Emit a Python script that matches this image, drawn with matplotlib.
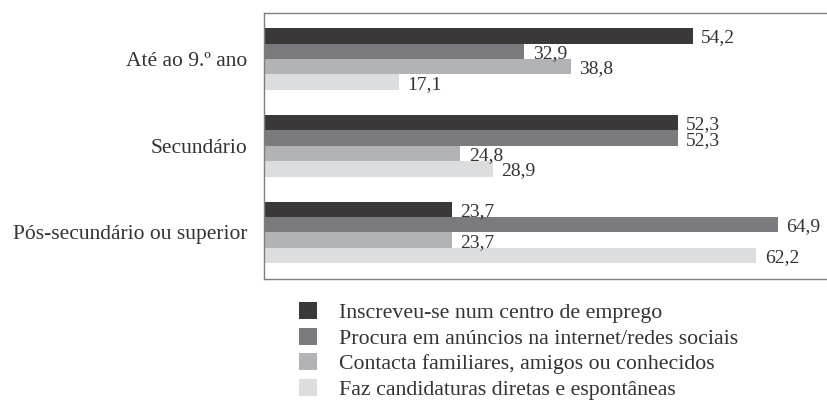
import numpy as np
import matplotlib
matplotlib.use("Agg")
import matplotlib.pyplot as plt
from matplotlib.patches import Patch

# Data
categories = ["Até ao 9.º ano", "Secundário", "Pós-secundário ou superior"]
series_names = [
    "Inscreveu-se num centro de emprego",
    "Procura em anúncios na internet/redes sociais",
    "Contacta familiares, amigos ou conhecidos",
    "Faz candidaturas diretas e espontâneas",
]
centro_emprego = [54.2, 52.3, 23.7]
anuncios_internet = [32.9, 52.3, 64.9]
familiares_amigos = [38.8, 24.8, 23.7]
candidaturas = [17.1, 28.9, 62.2]

values = [centro_emprego, anuncios_internet, familiares_amigos, candidaturas]
colors = ["#3a3839", "#7b7b7f", "#b1b3b6", "#dcdddf"]
text_col = "#333333"

plt.rcParams["font.family"] = ["Liberation Serif", "DejaVu Serif"]
plt.rcParams["text.color"] = text_col

fig = plt.figure(figsize=(8.28, 4.01), dpi=100)
# axes box in figure coords (right edge runs past the figure)
ax = fig.add_axes([264 / 828, 1 - 279 / 401, (845 - 264) / 828, (279 - 13) / 401])

y = np.arange(len(categories))
bar_h = 0.1775
px_per_unit = (693 - 264) / 54.2

for i, (vals, col) in enumerate(zip(values, colors)):
    offs = (i - 1.5) * bar_h
    ax.barh(y + offs, vals, height=bar_h, color=col, linewidth=0)
    for yy, v in zip(y + offs, vals):
        ax.annotate(f"{v:.1f}".replace(".", ","), xy=(v, yy), xytext=(6, -1.5),
                    textcoords="offset points", va="center", ha="left",
                    fontsize=14, color=text_col)

ax.set_xlim(0, (845 - 264) / px_per_unit)
ax.set_ylim(2.536, -0.530)
ax.set_yticks(y)
ax.set_yticklabels(categories, fontsize=15.5, color=text_col)
ax.tick_params(axis="y", length=0, pad=12)
ax.set_xticks([])
for side in ["top", "bottom", "left", "right"]:
    ax.spines[side].set_color("#7f7f7f")
    ax.spines[side].set_linewidth(1.0)

handles = [Patch(facecolor=c, edgecolor="none") for c in colors]
fig.legend(handles, series_names, loc="upper left",
           bbox_to_anchor=(299 / 828, 1 - 302 / 401), frameon=False,
           fontsize=15.75, handlelength=0.83, handleheight=0.83,
           handletextpad=1.0, labelspacing=0.2, borderpad=0, borderaxespad=0)

fig.savefig("out.png", dpi=100)
